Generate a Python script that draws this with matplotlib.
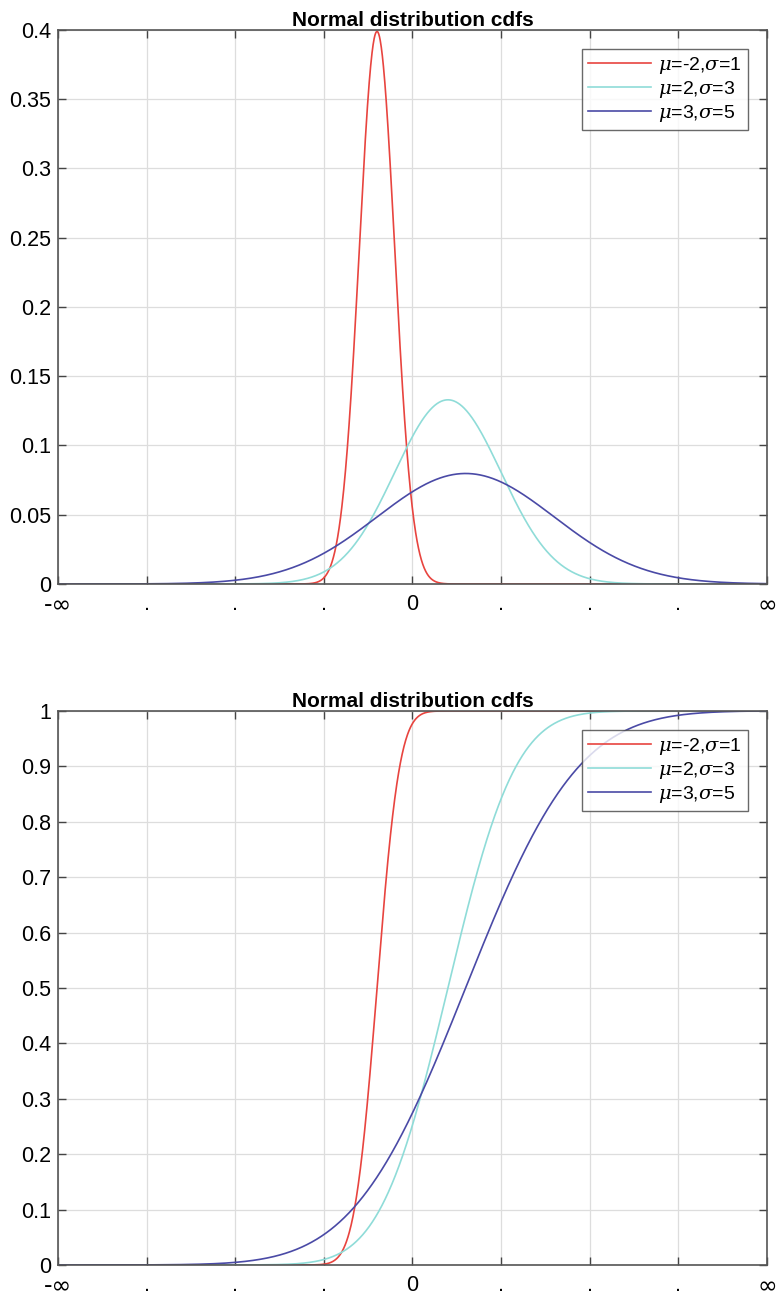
import numpy as np
import matplotlib.pyplot as plt

plt.rcParams["font.family"] = ["Liberation Sans", "DejaVu Sans"]
plt.rcParams["mathtext.fontset"] = "dejavuserif"

# distribution parameters (from legend)
mus = [-2, 2, 3]
sigmas = [1, 3, 5]
colors = ["#e8443f", "#8fdcd8", "#4a4aa6"]
labels = ["$\\mu$=-2,$\\sigma$=1", "$\\mu$=2,$\\sigma$=3", "$\\mu$=3,$\\sigma$=5"]

xticks = [-20, -15, -10, -5, 0, 5, 10, 15, 20]
xticklabels = ["-∞", ".", ".", ".", "0", ".", ".", ".", "∞"]
pdf_yticks = [0, 0.05, 0.1, 0.15, 0.2, 0.25, 0.3, 0.35, 0.4]
pdf_ylabels = ["0", "0.05", "0.1", "0.15", "0.2", "0.25", "0.3", "0.35", "0.4"]
cdf_yticks = [0, 0.1, 0.2, 0.3, 0.4, 0.5, 0.6, 0.7, 0.8, 0.9, 1]
cdf_ylabels = ["0", "0.1", "0.2", "0.3", "0.4", "0.5", "0.6", "0.7", "0.8", "0.9", "1"]

x = np.linspace(-20, 20, 2001)


def norm_pdf(x, m, s):
    return np.exp(-0.5 * ((x - m) / s) ** 2) / (s * np.sqrt(2 * np.pi))


def norm_cdf(x, m, s):
    # numeric integral of the pdf
    p = norm_pdf(x, m, s)
    c = np.concatenate([[0], np.cumsum((p[1:] + p[:-1]) / 2 * np.diff(x))])
    return c / c[-1] if c[-1] > 0.999 else c


fig = plt.figure(figsize=(7.77, 13.03), dpi=100)
ax1 = fig.add_axes([0.0746, 0.5518, 0.9125, 0.4252])
ax2 = fig.add_axes([0.0746, 0.0292, 0.9125, 0.4252])


def style(ax, yt, yl, ymax):
    ax.set_xlim(-20, 20)
    ax.set_ylim(0, ymax)
    ax.set_xticks(xticks)
    ax.set_xticklabels(xticklabels, fontsize=15.5)
    # the infinity signs are drawn bigger
    for t in (ax.get_xticklabels()[0], ax.get_xticklabels()[-1]):
        t.set_fontfamily("DejaVu Sans")
        t.set_fontsize(17)
    ax.set_yticks(yt)
    ax.set_yticklabels(yl, fontsize=15.5)
    ax.tick_params(direction="in", length=6, width=1, color="#444444",
                   top=True, right=True, pad=7)
    ax.tick_params(axis="y", pad=5)
    ax.grid(True, color="#dddddd", lw=0.9)
    ax.set_axisbelow(True)
    for s in ax.spines.values():
        s.set_color("#555555")
        s.set_linewidth(1.2)
    ax.set_title("Normal distribution cdfs", fontsize=15, fontweight="bold", pad=3)
    leg = ax.legend(loc="upper right", fontsize=14, frameon=True, fancybox=False,
                    handlelength=3.2, borderaxespad=1.0, labelspacing=0.15,
                    handletextpad=0.4, borderpad=0.3)
    leg.get_frame().set_edgecolor("#444444")
    leg.get_frame().set_linewidth(1.0)


for m, s, c, lb in zip(mus, sigmas, colors, labels):
    ax1.plot(x, norm_pdf(x, m, s), color=c, lw=1.2, label=lb)
    ax2.plot(x, norm_cdf(x, m, s), color=c, lw=1.2, label=lb)

style(ax1, pdf_yticks, pdf_ylabels, 0.4)
style(ax2, cdf_yticks, cdf_ylabels, 1.0)

fig.savefig("out.png", dpi=100)
